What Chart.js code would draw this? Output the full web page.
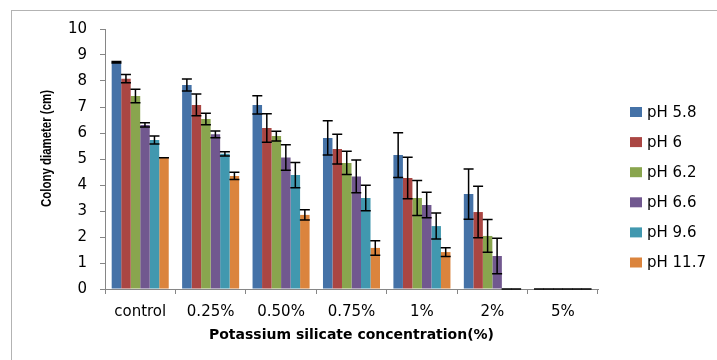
<!DOCTYPE html>
<html>
<head>
<meta charset="utf-8">
<script src="https://cdn.jsdelivr.net/npm/chart.js@4.4.0/dist/chart.umd.min.js"></script>
<style>
  html, body { margin: 0; padding: 0; background: #fff; overflow: hidden; }
  #wrap { position: relative; width: 717px; height: 360px; }
  #frame { position: absolute; left: 11px; top: 10px; width: 720px; height: 360px;
           border-left: 1px solid #b3b3b3; border-top: 1px solid #b3b3b3; pointer-events: none; }
</style>
</head>
<body>
<div id="wrap">
  <canvas id="chart" width="717" height="360"></canvas>
  <div id="frame"></div>
</div>
<script>
// ── data ─────────────────────────────────────────────────
var categories = ['control', '0.25%', '0.50%', '0.75%', '1%', '2%', '5%'];
var seriesNames = ['pH 5.8', 'pH 6', 'pH 6.2', 'pH 6.6', 'pH 9.6', 'pH 11.7'];

var ph58    = [8.72, 7.85, 7.08, 5.81, 5.15, 3.65, 0];
var ph58Err = [0.03, 0.23, 0.35, 0.66, 0.86, 0.97, 0];
var ph6     = [8.09, 7.08, 6.19, 5.38, 4.27, 2.96, 0];
var ph6Err  = [0.16, 0.42, 0.55, 0.57, 0.80, 0.99, 0];
var ph62    = [7.42, 6.54, 5.88, 4.85, 3.50, 2.04, 0];
var ph62Err = [0.26, 0.22, 0.19, 0.45, 0.67, 0.63, 0];
var ph66    = [6.31, 5.95, 5.06, 4.33, 3.23, 1.27, 0];
var ph66Err = [0.08, 0.13, 0.49, 0.63, 0.49, 0.68, 0];
var ph96    = [5.73, 5.20, 4.38, 3.50, 2.42, 0, 0];
var ph96Err = [0.15, 0.08, 0.49, 0.49, 0.50, 0, 0];
var ph117   = [5.05, 4.35, 2.85, 1.58, 1.42, 0, 0];
var ph117Err= [0.00, 0.14, 0.20, 0.28, 0.17, 0, 0];

var yTicks = [0, 1, 2, 3, 4, 5, 6, 7, 8, 9, 10];
var xTitle = 'Potassium silicate concentration(%)';
var yTitle = 'Colony diameter (cm)';

var colors = ['#4572A7', '#AA4643', '#89A54E', '#71588F', '#4198AF', '#DB843D'];
var values = [ph58, ph6, ph62, ph66, ph96, ph117];
var errors = [ph58Err, ph6Err, ph62Err, ph66Err, ph96Err, ph117Err];

Chart.defaults.font.family = '"DejaVu Sans", sans-serif';
Chart.defaults.color = '#000';

var datasets = seriesNames.map(function(name, i) {
  return {
    label: name,
    data: values[i],
    errors: errors[i],
    backgroundColor: colors[i],
    borderWidth: 0,
    barPercentage: 1,
    categoryPercentage: 0.81
  };
});

// error bars: vertical line + caps, from each dataset's errors
var errorBars = {
  id: 'errorBars',
  afterDatasetsDraw: function(chart) {
    var ctx = chart.ctx, y = chart.scales.y;
    ctx.save();
    ctx.strokeStyle = '#000';
    ctx.lineWidth = 1.5;
    chart.data.datasets.forEach(function(ds, i) {
      var meta = chart.getDatasetMeta(i);
      meta.data.forEach(function(bar, j) {
        var v = ds.data[j], e = ds.errors[j];
        var top = y.getPixelForValue(v + e), bot = y.getPixelForValue(Math.max(0, v - e));
        var half = 5;
        ctx.beginPath();
        ctx.moveTo(bar.x, top); ctx.lineTo(bar.x, bot);
        ctx.moveTo(bar.x - half, top); ctx.lineTo(bar.x + half, top);
        ctx.moveTo(bar.x - half, bot); ctx.lineTo(bar.x + half, bot);
        ctx.stroke();
      });
    });
    ctx.restore();
  }
};

// legend on the right, squares + labels
var sideLegend = {
  id: 'sideLegend',
  afterDraw: function(chart) {
    var ctx = chart.ctx;
    ctx.save();
    ctx.font = '15px "DejaVu Sans", sans-serif';
    ctx.textBaseline = 'middle';
    ctx.textAlign = 'left';
    chart.data.datasets.forEach(function(ds, i) {
      var cy = 112 + i * 30.1;
      ctx.fillStyle = ds.backgroundColor;
      ctx.fillRect(630, cy - 5, 12, 10);
      ctx.fillStyle = '#000';
      ctx.fillText(ds.label, 647, cy + 1);
    });
    ctx.restore();
  }
};

// rotated y title, squeezed along its length to fit like the original
var yAxisTitle = {
  id: 'yAxisTitle',
  afterDraw: function(chart) {
    var ctx = chart.ctx;
    ctx.save();
    ctx.font = 'bold 14px "Liberation Sans", Arial, sans-serif';
    var w = ctx.measureText(yTitle).width;
    ctx.translate(47, 148.5);
    ctx.rotate(-Math.PI / 2);
    ctx.scale(117 / w, 1);
    ctx.fillStyle = '#000';
    ctx.textAlign = 'center';
    ctx.textBaseline = 'middle';
    ctx.fillText(yTitle, 0, 0);
    ctx.restore();
  }
};

new Chart(document.getElementById('chart'), {
  type: 'bar',
  data: { labels: categories, datasets: datasets },
  plugins: [errorBars, sideLegend, yAxisTitle],
  options: {
    responsive: false,
    animation: false,
    devicePixelRatio: 1,
    layout: { padding: { top: 29, right: 119, left: 0, bottom: 0 } },
    plugins: { legend: { display: false }, tooltip: { enabled: false } },
    scales: {
      x: {
        grid: { offset: true, drawOnChartArea: false, tickLength: 5, color: '#868686' },
        border: { color: '#868686', width: 1 },
        ticks: { padding: 9, font: { size: 15 }, color: '#000' },
        title: { display: true, text: xTitle, font: { size: 14, weight: 'bold' }, color: '#000',
                 padding: { top: 0, bottom: 16 } },
        afterFit: function(s) { s.height = 71; }
      },
      y: {
        min: 0, max: 10,
        afterBuildTicks: function(s) { s.ticks = yTicks.map(function(v) { return { value: v }; }); },
        grid: { drawOnChartArea: false, tickLength: 5, color: '#868686' },
        border: { color: '#868686', width: 1 },
        ticks: { padding: 13, font: { size: 15 }, color: '#000' },
        afterFit: function(s) { s.width = 105; }
      }
    }
  }
});
</script>
</body>
</html>
